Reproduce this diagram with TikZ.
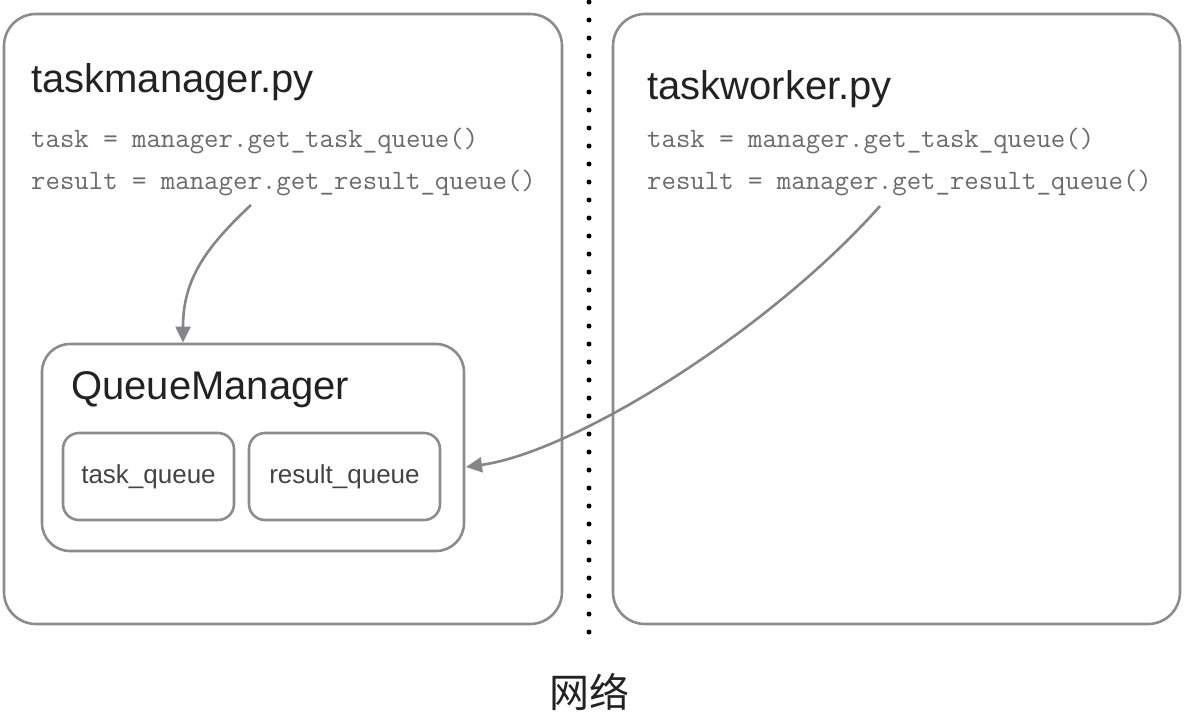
\documentclass[tikz,border=0pt]{standalone}
\usepackage{fontspec}
\setmainfont{Liberation Sans}
\newfontfamily\cjk{Noto Sans CJK SC}
\usetikzlibrary{arrows.meta}
\definecolor{boxgray}{HTML}{8C8C8C}
\definecolor{arrgray}{HTML}{85868A}
\definecolor{codegray}{HTML}{6A6A6A}
\definecolor{titlec}{HTML}{222222}
\tikzset{
  panel/.style={draw=boxgray, line width=2.6pt, rounded corners=32pt, anchor=north west, inner sep=0pt, outer sep=0pt},
  qbox/.style={draw=boxgray, line width=2.6pt, rounded corners=28pt, anchor=north west, inner sep=0pt, outer sep=0pt},
  ibox/.style={draw=boxgray, line width=2.6pt, rounded corners=16pt, anchor=north west, inner sep=0pt, outer sep=0pt},
  itext/.style={font=\fontsize{26}{30}\selectfont, text=titlec!85, inner sep=0pt},
  title/.style={anchor=base west, inner sep=0pt, font=\fontsize{40}{46}\selectfont, text=titlec},
  code/.style={anchor=base west, inner sep=0pt, font=\ttfamily\fontsize{28}{32}\selectfont, text=codegray},
  conn/.style={draw=arrgray, line width=2.6pt, -{Triangle[length=16pt,width=15pt]}},
}
\begin{document}
\begin{tikzpicture}[x=1pt,y=-1pt]
\useasboundingbox (0,0) rectangle (1194,720);
% panels
\node[panel, minimum width=558pt, minimum height=610pt] (left) at (4,14) {};
\node[panel, minimum width=567pt, minimum height=610pt] (right) at (613,14) {};
% titles
\node[title] (tm) at (31,92) {taskmanager.py};
\node[title] (tw) at (647,99) {taskworker.py};
% code
\node[code] (c1) at (31,147) {task = manager.get\_task\_queue()};
\node[code] (c2) at (31,189) {result = manager.get\_result\_queue()};
\node[code] (c3) at (647,147) {task = manager.get\_task\_queue()};
\node[code] (c4) at (647,189) {result = manager.get\_result\_queue()};
% queue manager
\node[qbox, minimum width=422pt, minimum height=207pt] (qm) at (42,344) {};
\node[title] (qmt) at (71,399) {QueueManager};
\node[ibox, minimum width=171pt, minimum height=87pt] (tq) at (63,433) {};
\node[ibox, minimum width=191pt, minimum height=87pt] (rq) at (249,433) {};
\node[itext] (tqt) at (tq.center) {task\_queue};
\node[itext] (rqt) at (rq.center) {result\_queue};
% network separator
\coordinate (ntop) at (589,2);
\coordinate (nbot) at (589,644);
\draw[black, line width=5pt, line cap=round, dash pattern=on 0pt off 18pt] (ntop) -- (nbot);
\node[font=\cjk\fontsize{40}{44}\selectfont, text=titlec, inner sep=0pt] (net) at (589,692) {网络};
% connectors
\coordinate (s1) at (251,205);
\coordinate (e1) at (183,342.5);
\draw[conn] (s1) .. controls (205,248) and (183,280) .. (e1);
\coordinate (s2) at (880,206);
\coordinate (e2) at (466,467);
\draw[conn] (s2) .. controls (770,330) and (575,452) .. (e2);
\end{tikzpicture}
\end{document}
